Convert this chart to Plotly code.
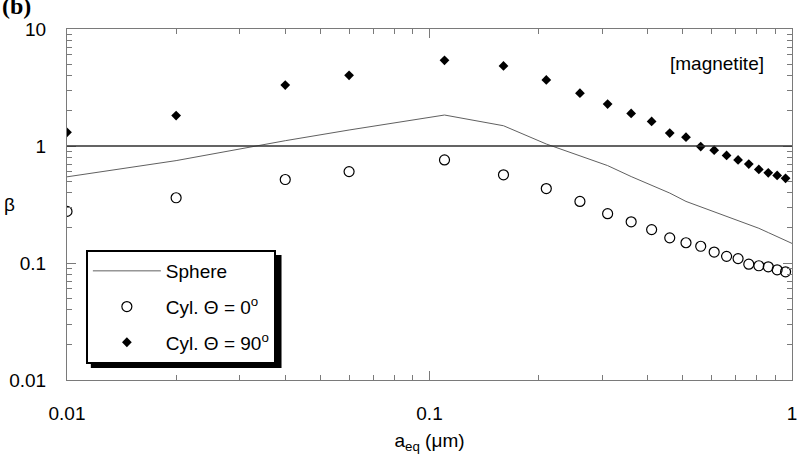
import plotly.graph_objects as go

# ---- data ----
a_eq = [0.01, 0.02, 0.04, 0.06, 0.11, 0.16, 0.21, 0.26, 0.31, 0.36, 0.41,
        0.46, 0.51, 0.56, 0.61, 0.66, 0.71, 0.76, 0.81, 0.86, 0.91, 0.96]
beta_cyl0 = [0.276, 0.361, 0.517, 0.604, 0.76, 0.567, 0.433, 0.336, 0.264, 0.225, 0.193,
             0.164, 0.149, 0.139, 0.124, 0.114, 0.109, 0.0977, 0.0947, 0.0928, 0.0875, 0.0841]
beta_cyl90 = [1.31, 1.82, 3.32, 4.02, 5.4, 4.83, 3.67, 2.83, 2.28, 1.90, 1.62,
              1.29, 1.19, 0.99, 0.92, 0.83, 0.76, 0.70, 0.63, 0.59, 0.56, 0.53]
a_sphere = [0.01, 0.02, 0.04, 0.06, 0.11, 0.16, 0.21, 0.26, 0.31, 0.36, 0.41,
            0.46, 0.51, 0.56, 0.61, 0.66, 0.71, 0.76, 0.81, 0.86, 0.91, 0.96, 1.0]
beta_sphere = [0.545, 0.75, 1.11, 1.37, 1.84, 1.49, 1.04, 0.83, 0.68, 0.548, 0.463,
               0.396, 0.336, 0.302, 0.271, 0.247, 0.229, 0.211, 0.198, 0.182, 0.168, 0.156, 0.147]

x_tickvals = [0.01, 0.1, 1]
x_ticktext = ["0.01", "0.1", "1"]
y_tickvals = [0.01, 0.1, 1, 10]
y_ticktext = ["0.01", "0.1", "1", "10"]

FONT = "Liberation Sans, Arial, Helvetica, sans-serif"
FS = 19
AXC = "#7a7a7a"

fig = go.Figure()
fig.add_trace(go.Scatter(x=a_sphere, y=beta_sphere, mode="lines", name="Sphere",
                         line=dict(color="#606060", width=1), legendgroup="a"))
fig.add_trace(go.Scatter(x=a_eq, y=beta_cyl0, mode="markers", name="Cyl. Θ = 0<sup>o</sup>",
                         marker=dict(symbol="circle-open", size=10, color="black",
                                     line=dict(color="black", width=1.2)), legendgroup="b"))
fig.add_trace(go.Scatter(x=a_eq, y=beta_cyl90, mode="markers", name="Cyl. Θ = 90<sup>o</sup>",
                         marker=dict(symbol="diamond", size=7.5, color="black"), legendgroup="c"))

fig.add_hline(y=1, line=dict(color="#303030", width=1.5))

def minor_vals(lo, hi):
    out = []
    e = lo
    while e < hi:
        for m in range(2, 10):
            out.append(m * 10 ** e)
        e += 1
    return out

common = dict(type="log", showline=True, linecolor=AXC, linewidth=1, mirror="ticks",
              ticks="inside", ticklen=9, tickcolor=AXC, tickwidth=1, showgrid=False,
              zeroline=False, tickfont=dict(family=FONT, size=FS, color="black"))

fig.update_xaxes(range=[-2, 0], tickmode="array", tickvals=x_tickvals, ticktext=x_ticktext,
                 minor=dict(tickmode="array", tickvals=minor_vals(-2, 0), ticks="inside",
                            ticklen=5, tickcolor=AXC, showgrid=False),
                 ticklabelstandoff=16,
                 title=dict(text="a<sub>eq</sub> (μm)", font=dict(family=FONT, size=FS, color="black"),
                            standoff=10),
                 **common)
fig.update_yaxes(range=[-2, 1], tickmode="array", tickvals=y_tickvals, ticktext=y_ticktext,
                 minor=dict(tickmode="array", tickvals=minor_vals(-2, 1), ticks="inside",
                            ticklen=5, tickcolor=AXC, showgrid=False),
                 ticklabelstandoff=16,
                 **common)

fig.add_annotation(text="β", xref="paper", yref="paper", x=-0.08, y=0.5, showarrow=False,
                   xanchor="center", yanchor="middle", font=dict(family=FONT, size=FS, color="black"))
fig.add_annotation(text="[magnetite]", xref="paper", yref="paper", x=0.896, y=0.903, showarrow=False,
                   xanchor="center", yanchor="middle", font=dict(family=FONT, size=FS, color="black"))
fig.add_annotation(text="<b>(b)</b>", xref="paper", yref="paper", x=-0.092, y=1.065, showarrow=False,
                   xanchor="left", yanchor="middle",
                   font=dict(family="Liberation Serif, Times New Roman, serif", size=24, color="black"))

# legend shadow
fig.add_shape(type="rect", xref="paper", yref="paper",
              x0=(91 - 67) / 730, x1=(283 - 67) / 730,
              y0=1 - (368 - 29) / 351, y1=1 - (255 - 29) / 351,
              fillcolor="black", line=dict(width=0), layer="above")

fig.update_layout(
    width=804, height=468,
    margin=dict(l=67, r=7, t=29, b=88),
    plot_bgcolor="white", paper_bgcolor="white",
    showlegend=True,
    legend=dict(x=(86 - 67) / 730, y=1 - (250 - 29) / 351, xanchor="left", yanchor="top",
                bgcolor="white", bordercolor="black", borderwidth=2,
                font=dict(family=FONT, size=FS, color="black"),
                traceorder="grouped", tracegroupgap=8, itemwidth=68),
)

fig.write_html("out.html")
